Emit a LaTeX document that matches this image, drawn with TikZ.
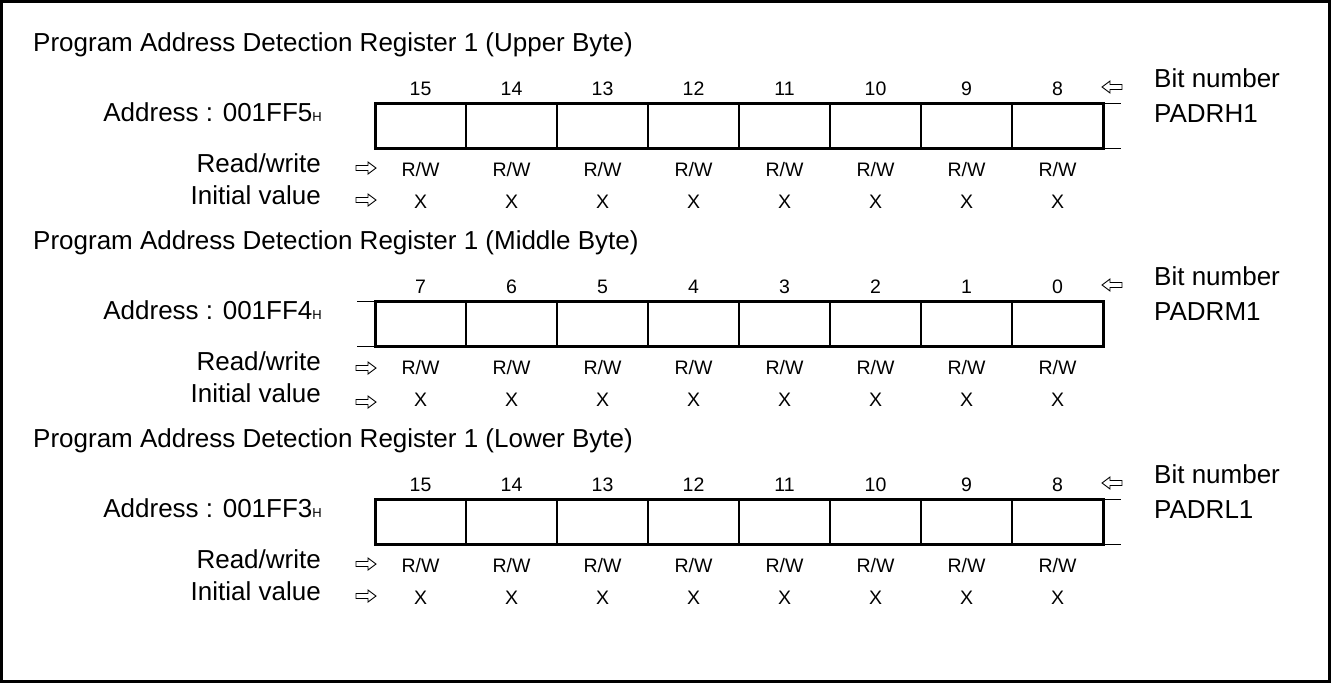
\documentclass[tikz,border=0pt]{standalone}
\usepackage{fontspec}
\setmainfont{Liberation Sans}
\tikzset{
  big/.style={font=\fontsize{26}{30}\selectfont, inner sep=0pt},
  small/.style={font=\fontsize{19.5}{22}\selectfont, inner sep=0pt},
  regbox/.style={line width=3pt},
  divider/.style={line width=1.3pt},
  extline/.style={line width=1pt},
  hollow/.style={line width=0.9pt, line join=miter},
  frameline/.style={line width=2.7pt},
  rarr/.pic={\draw[hollow] (-10,-2.5) -- (2,-2.5) -- (2,-6) -- (10,0) -- (2,6) -- (2,2.5) -- (-10,2.5) -- cycle;},
  larr/.pic={\draw[hollow] (10,-2.5) -- (-2,-2.5) -- (-2,-6) -- (-10,0) -- (-2,6) -- (-2,2.5) -- (10,2.5) -- cycle;}
}
\begin{document}
\begin{tikzpicture}[x=1pt,y=-1pt]
\useasboundingbox (0,0) rectangle (1331,683);
\draw[frameline] (1.35,1.35) rectangle (1329.65,681.65);
\foreach \r/\ttl/\addr/\reg/\hi/\ya/\yb in {0/Upper/5/PADRH1/15/0/0, 1/Middle/4/PADRM1/7/2/4, 2/Lower/3/PADRL1/15/0/0}{
  \begin{scope}[yshift={-198*\r*1pt}]
    \node[big, anchor=base west] (title\r) at (33,51) {Program Address Detection Register 1 (\ttl\ Byte)};
    \node[big, anchor=base east] (addr\r) at (322,121) {Address : 001FF\addr{\fontsize{13}{13}\selectfont H}};
    \node[big, anchor=base east] (rw\r) at (321,172) {Read/write};
    \node[big, anchor=base east] (iv\r) at (321,204) {Initial value};
    \pic at (366,168+\ya) {rarr};
    \pic at (366,200+\yb) {rarr};
    \coordinate (bnw\r) at (375,103);
    \coordinate (bse\r) at (1103,148);
    \draw[regbox] (bnw\r) rectangle (bse\r);
    \foreach \i in {1,...,7} \draw[divider] (375+91*\i,103) -- (375+91*\i,148);
    \foreach \i in {0,...,7}{
      \pgfmathtruncatemacro\b{\hi-\i}
      \node[small, anchor=base] (bit\r-\i) at (420.5+91*\i,95) {\b};
      \node[small, anchor=base] (rwv\r-\i) at (420.5+91*\i,176) {R/W};
      \node[small, anchor=base] (x\r-\i) at (420.5+91*\i,208) {X};
    }
    \pic at (1112,87) {larr};
    \node[big, anchor=base west] (bn\r) at (1154,87) {Bit number};
    \node[big, anchor=base west] (reg\r) at (1154,122) {\reg};
  \end{scope}
}
% extension lines
\draw[extline] (1103,103) -- (1121,103);
\draw[extline] (1103,148) -- (1121,148);
\draw[extline] (357,301) -- (375,301);
\draw[extline] (357,346) -- (375,346);
\draw[extline] (1103,499) -- (1121,499);
\draw[extline] (1103,544) -- (1121,544);
\end{tikzpicture}
\end{document}
